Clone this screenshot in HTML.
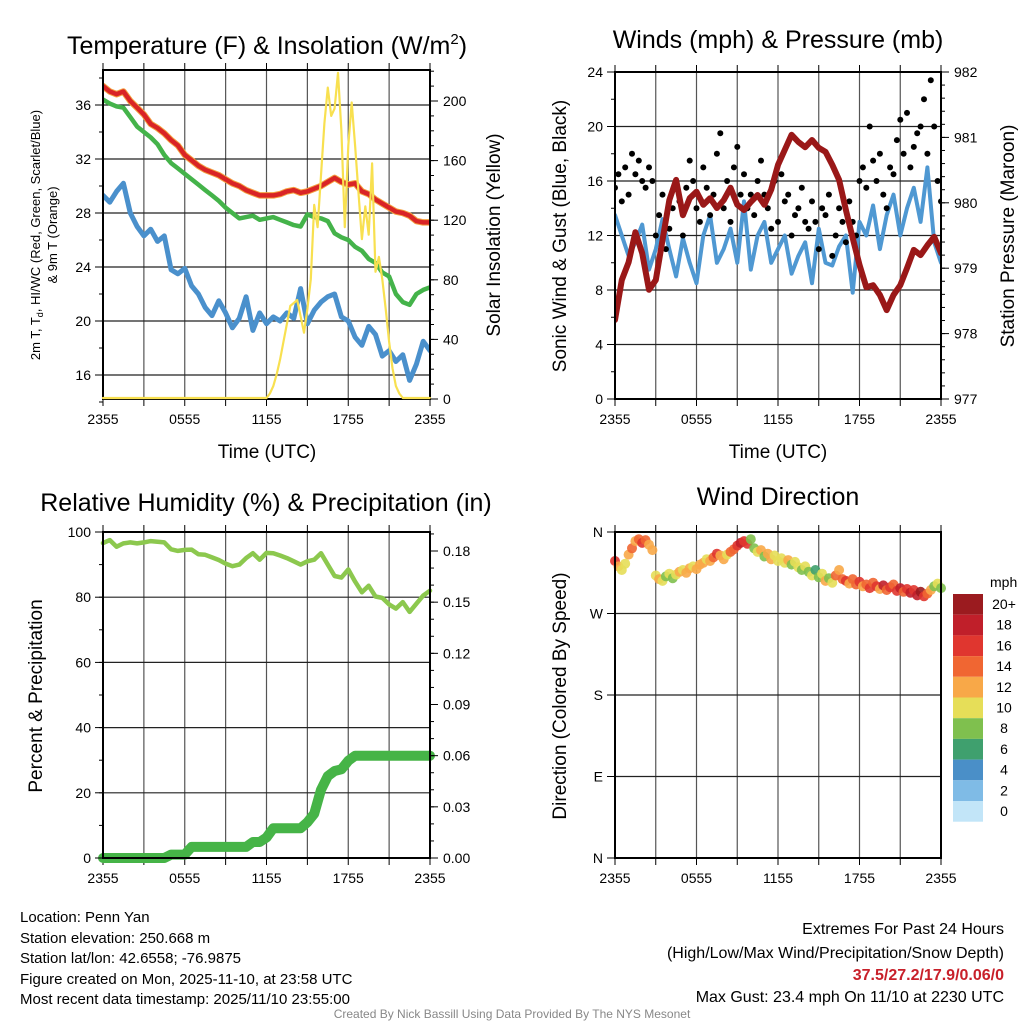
<!DOCTYPE html>
<html><head><meta charset="utf-8"><style>
html,body{margin:0;padding:0;background:#fff;}
svg{display:block;font-family:"Liberation Sans",Arial,sans-serif;}
</style></head><body>
<svg id="fig" xmlns="http://www.w3.org/2000/svg" width="1024" height="1024" viewBox="0 0 1024 1024">
<rect width="1024" height="1024" fill="#fff"/>
<g id="p1"></g>
<g id="p2"></g>
<g id="p3"></g>
<g id="p4"></g>
<g font-size="25" text-anchor="middle" fill="#000">
<text x="267" y="54">Temperature (F) &amp; Insolation (W/m<tspan font-size="15" dy="-10">2</tspan><tspan dy="10">)</tspan></text>
<text x="778" y="48">Winds (mph) &amp; Pressure (mb)</text>
<text x="266" y="511">Relative Humidity (%) &amp; Precipitation (in)</text>
<text x="778" y="505">Wind Direction</text>
</g>
<g font-size="19" fill="#000" text-anchor="middle">
<text x="267" y="458">Time (UTC)</text>
<text x="778" y="458">Time (UTC)</text>
<text transform="translate(500,235) rotate(-90)">Solar Insolation (Yellow)</text>
<text transform="translate(566,236) rotate(-90)">Sonic Wind &amp; Gust (Blue, Black)</text>
<text transform="translate(1014,236) rotate(-90)">Station Pressure (Maroon)</text>
<text transform="translate(42,696) rotate(-90)">Percent &amp; Precipitation</text>
<text transform="translate(566,696) rotate(-90)">Direction (Colored By Speed)</text>
<text transform="translate(40,235) rotate(-90)" font-size="13">2m T, T<tspan font-size="9" dy="3">d</tspan><tspan dy="-3">, HI/WC (Red, Green, Scarlet/Blue)</tspan></text>
<text transform="translate(57,235) rotate(-90)" font-size="13">&amp; 9m T (Orange)</text>
</g>
<g font-size="15" fill="#000">
<text x="20" y="922">Location: Penn Yan</text>
<text x="20" y="943">Station elevation: 250.668 m</text>
<text x="20" y="963">Station lat/lon: 42.6558; -76.9875</text>
<text x="20" y="984">Figure created on Mon, 2025-11-10, at 23:58 UTC</text>
<text x="20" y="1004">Most recent data timestamp: 2025/11/10 23:55:00</text>
</g>
<g font-size="16" fill="#000" text-anchor="end">
<text x="1004" y="934">Extremes For Past 24 Hours</text>
<text x="1004" y="958">(High/Low/Max Wind/Precipitation/Snow Depth)</text>
<text x="1004" y="980" fill="#c8202a" font-weight="bold">37.5/27.2/17.9/0.06/0</text>
<text x="1004" y="1002">Max Gust: 23.4 mph On 11/10 at 2230 UTC</text>
</g>
<text x="512" y="1018" font-size="12" fill="#888" text-anchor="middle">Created By Nick Bassill Using Data Provided By The NYS Mesonet</text>
</svg>
<script>
const xTickLabels = ["2355","0555","1155","1755","2355"];
const tempT = [37.4,37.0,36.8,37.0,36.3,35.8,35.3,34.6,34.3,33.9,33.4,33.0,32.3,31.9,31.5,31.2,31.0,30.8,30.5,30.2,30.0,29.7,29.5,29.3,29.3,29.3,29.4,29.6,29.7,29.5,29.6,29.8,30.0,30.3,30.6,30.3,30.1,30.2,29.6,29.4,29.0,28.7,28.4,28.1,28.0,27.8,27.4,27.3,27.3];
const tempTd = [36.4,36.1,35.9,35.8,35.1,34.4,34.0,33.6,33.1,32.3,31.7,31.3,30.9,30.5,30.1,29.7,29.3,28.9,28.4,28.0,27.6,27.7,27.8,27.5,27.6,27.7,27.5,27.3,27.1,27.0,27.9,27.7,27.6,27.4,26.5,26.2,26.0,25.5,25.2,24.6,24.3,23.6,23.3,22.0,21.4,21.2,22.0,22.3,22.5];
const tempWC = [29.3,28.8,29.6,30.2,28.0,27.0,26.3,26.8,25.9,26.3,23.8,23.5,23.9,22.6,22.0,21.0,20.4,21.5,20.6,19.5,20.2,21.8,19.3,20.6,19.8,20.3,20.0,20.6,20.2,22.4,19.8,20.8,21.4,21.8,22.0,20.3,20.0,18.8,18.2,19.6,19.0,17.4,17.8,17.0,17.5,15.6,16.8,18.5,17.8];
const tempLeftTicks = [16,20,24,28,32,36];
const solarTicks = [0,40,80,120,160,200];
const solar = [0,0,0,0,0,0,0,0,0,0,0,0,0,0,0,0,0,0,0,0,0,0,0,0,0,0,0,0,0,0,0,0,0,0,0,0,0,0,0,0,0,0,0,0,0,0,0,0,0,3,8,16,26,38,50,62,64,66,55,44,60,80,130,115,150,185,209,190,195,219,180,115,170,199,170,138,107,129,110,158,85,95,80,60,38,20,8,3,0,0,0,0,0,0,0,0,0];
const windSpeed = [13.5,12,10.5,11.5,12.8,9.5,11,13.2,11,9,11.8,10,8.5,12,13.5,10,11,12.5,10,14.5,9.5,12,13,10,11,12,9.2,10.5,11.5,8.5,12.5,10,9.8,11.2,12,7.8,13,12,14.2,11,13.5,15,12,14,15.5,13,17,11.5,10];
const windGust = [15.5,16.5,14.5,17,15,18,16.5,17.5,16,15.5,17,16,12,13.5,15,11,12.5,14,16,14.5,12,15.5,17.5,16,14,13,17,15.5,13.5,15,18,19.5,14,16,13,17,18.5,15,16.5,14,15,13.5,16,17.5,15,14,12.5,16,13,16.5,14.5,15,12,13.5,14,15.5,13,12.5,14.5,13,11,14,13.5,15,10.5,12,14,13,11.5,14.5,13,12,16,17,15.5,20,17.5,16,18,15,14,17,16.5,19,20.5,18,21,17,18.5,19.5,20,22,18,23.4,20,16,14.5];
const pressure = [978.21,978.82,979.09,979.55,979.23,978.67,978.82,979.43,980.04,980.35,979.81,980.07,980.17,979.97,980.07,979.92,980.04,980.23,979.97,979.89,980.01,980.12,979.97,980.20,980.58,980.81,981.04,980.93,980.85,980.96,980.84,980.78,980.58,980.35,979.89,979.46,979.05,978.71,978.74,978.59,978.36,978.59,978.74,979.00,979.28,979.20,979.35,979.48,979.23];
const windTicks = [0,4,8,12,16,20,24];
const pressTicks = [977,978,979,980,981,982];
const rh = [96.6,97.5,95.5,96.5,96.8,96.5,96.8,97.2,97.0,96.8,94.7,94.2,94.5,94.6,93.2,93.0,92.2,91.4,90.3,89.5,90.0,92.0,93.5,91.5,93.6,93.5,92.8,92.0,91.0,90.0,91.0,91.5,93.5,90.0,86.5,86.0,88.5,84.8,81.5,83.5,80.2,79.8,77.8,76.5,78.5,75.5,78.0,80.5,82.0];
const precip = [0,0,0,0,0,0,0,0,0,0,0.002,0.002,0.002,0.0065,0.0065,0.0065,0.0065,0.0065,0.0065,0.0065,0.0065,0.0065,0.0094,0.0094,0.012,0.0175,0.0175,0.0175,0.0175,0.0175,0.021,0.026,0.04,0.048,0.051,0.052,0.057,0.06,0.06,0.06,0.06,0.06,0.06,0.06,0.06,0.06,0.06,0.06,0.06];
const rhTicks = [0,20,40,60,80,100];
const precipTicks = ["0.00","0.03","0.06","0.09","0.12","0.15","0.18"];
const windDir = [328,322,318,325,335,342,350,352,348,351,346,340,312,308,306,311,314,309,313,316,318,315,320,322,319,324,326,330,328,332,336,334,330,335,338,341,345,348,350,347,352,342,338,340,333,336,330,334,328,331,326,329,324,327,321,318,322,316,312,318,310,314,306,309,304,312,318,308,306,303,308,302,305,300,302,298,304,300,297,301,296,299,302,295,298,294,297,293,296,290,294,289,292,296,300,303,298];
const dirSpeed = [16,12,11,10,12,14,13,15,16,14,12,13,11,12,10,9,11,8,10,12,11,13,12,11,12,13,12,11,13,14,16,12,13,11,14,15,17,18,16,17,8,9,10,12,8,13,12,11,10,11,10,12,9,10,11,8,10,9,11,7,8,10,12,9,11,14,13,15,16,12,14,15,17,13,15,16,14,17,13,18,15,16,14,17,18,15,17,19,16,18,20,17,14,12,8,10,9];
const dirTicks = [0,90,180,270,360];
const dirLabels = ["N","E","S","W","N"];
const cbLabels = ["20+","18","16","14","12","10","8","6","4","2","0"];
const cbColors = ["#9b1b1f","#c01f2a","#e0362f","#f06632","#f8a848","#e6de58","#7fc04e","#3fa06e","#4a8fc8","#7fbbe6","#c2e5f8"];

const NS="http://www.w3.org/2000/svg";
function mk(parent,tag,attrs){const e=document.createElementNS(NS,tag);for(const k in attrs)e.setAttribute(k,attrs[k]);parent.appendChild(e);return e;}
function lin(d0,d1,r0,r1){return v=>r0+(v-d0)*(r1-r0)/(d1-d0);}
const X0=103,X1=430,X20=615,X21=941;
function frame(g,x0,x1,y0,y1,hgrid,ysc){
  for(let i=1;i<8;i++){const x=x0+(x1-x0)*i/8;const l=mk(g,'line',{x1:x,x2:x,y1:y0,y2:y1,stroke:'#555','stroke-width':1.2});
    
    }
  hgrid.forEach(v=>{const y=ysc(v);const l=mk(g,'line',{x1:x0,x2:x1,y1:y,y2:y,stroke:'#222','stroke-width':1.2});
    
    });
  for(let i=0;i<=8;i++){const x=x0+(x1-x0)*i/8;mk(g,'line',{x1:x,x2:x,y1:y0-7,y2:y0,stroke:'#000','stroke-width':1});mk(g,'line',{x1:x,x2:x,y1:y1,y2:y1+7,stroke:'#000','stroke-width':1});}
  xTickLabels.forEach((t,i)=>{const x=x0+(x1-x0)*i/4;const tx=mk(g,'text',{x:x,y:y1+25,'font-size':14,'text-anchor':'middle'});tx.textContent=t;
    
    });
}
function border(g,x0,x1,y0,y1){const r=mk(g,'rect',{x:x0,y:y0,width:x1-x0,height:y1-y0,fill:'none',stroke:'#000','stroke-width':2});
  
  }
function leftTicks(g,x0,ticks,ysc,labels,minorStep,lo,hi){
  ticks.forEach((v,i)=>{const y=ysc(v);mk(g,'line',{x1:x0-8,x2:x0,y1:y,y2:y,stroke:'#000'});const t=mk(g,'text',{x:x0-12,y:y+5,'font-size':14,'text-anchor':'end'});t.textContent=labels?labels[i]:v;
    
    });
  if(minorStep)for(let v=lo;v<=hi+1e-9;v+=minorStep){const y=ysc(v);mk(g,'line',{x1:x0-4,x2:x0,y1:y,y2:y,stroke:'#000'});}
}
function rightTicks(g,x1,ticks,ysc,labels,minorStep,lo,hi){
  ticks.forEach((v,i)=>{const y=ysc(v);mk(g,'line',{x1:x1,x2:x1+8,y1:y,y2:y,stroke:'#000'});const t=mk(g,'text',{x:x1+13,y:y+5,'font-size':14,'text-anchor':'start'});t.textContent=labels?labels[i]:v;
    
    });
  if(minorStep)for(let v=lo;v<=hi+1e-9;v+=minorStep){const y=ysc(v);mk(g,'line',{x1:x1,x2:x1+4,y1:y,y2:y,stroke:'#000'});}
}
function path(g,vals,xs,ys,color,w,name){
  const d=vals.map((v,i)=>(i?'L':'M')+xs(i).toFixed(1)+','+ys(v).toFixed(1)).join('');
  const p=mk(g,'path',{d:d,fill:'none',stroke:color,'stroke-width':w,'stroke-linejoin':'round','stroke-linecap':'round'});
  
  
  return p;
}
// Panel 1
(function(){
  const g=document.getElementById('p1');const y0=70,y1=399;
  const ys=lin(16,36,375,105), ysR=lin(0,200,398,101);
  const clip=mk(g,'clipPath',{id:'c1'});mk(clip,'rect',{x:X0,y:y0,width:X1-X0,height:y1-y0});
  frame(g,X0,X1,y0,y1,tempLeftTicks,ys);
  const d=mk(g,'g',{'clip-path':'url(#c1)'});
  const xs=lin(0,tempT.length-1,X0,X1), xs2=lin(0,solar.length-1,X0,X1);
  path(d,tempT,xs,ys,'#f4a040',6.5,'9m-temperature-line');
  path(d,tempT,xs,ys,'#d92426',4.5,'temperature-line');
  path(d,tempTd,xs,ys,'#44b34a',4.5,'dewpoint-line');
  path(d,tempWC,xs,ys,'#4a90cc',5,'wind-chill-line');
  border(g,X0,X1,y0,y1);
  path(g,solar,xs2,ysR,'#f8e050',2.2,'solar-insolation-line');
  leftTicks(g,X0,tempLeftTicks,ys,null,2,14,38);
  rightTicks(g,X1,solarTicks,lin(0,200,399,101),null,10,0,220);
})();
// Panel 2
(function(){
  const g=document.getElementById('p2');const y0=72,y1=399;
  const ys=lin(0,24,399,72), ysR=lin(977,982,399,72);
  const clip=mk(g,'clipPath',{id:'c2'});mk(clip,'rect',{x:X20,y:y0,width:X21-X20,height:y1-y0});
  frame(g,X20,X21,y0,y1,[4,8,12,16,20],ys);
  const d=mk(g,'g',{'clip-path':'url(#c2)'});
  const xs=lin(0,windSpeed.length-1,X20,X21), xg=lin(0,windGust.length-1,X20,X21), xp=lin(0,pressure.length-1,X20,X21);
  path(d,windSpeed,xs,ys,'#4f98d2',4,'sonic-wind-line');
  windGust.forEach((v,i)=>{const c=mk(d,'circle',{cx:xg(i).toFixed(1),cy:ys(v).toFixed(1),r:3,fill:'#000'});
    
    });
  path(d,pressure,xp,ysR,'#9a1818',6,'pressure-line');
  border(g,X20,X21,y0,y1);
  leftTicks(g,X20,windTicks,ys,null,2,0,24);
  rightTicks(g,X21,pressTicks,ysR,null,0.2,977,982);
})();
// Panel 3
(function(){
  const g=document.getElementById('p3');const y0=532,y1=858;
  const ys=lin(0,100,858,532), ysR=lin(0,0.18,858,551);
  const clip=mk(g,'clipPath',{id:'c3'});mk(clip,'rect',{x:X0-8,y:y0,width:X1-X0+16,height:y1-y0+8});
  frame(g,X0,X1,y0,y1,[20,40,60,80],ys);
  const d=mk(g,'g',{'clip-path':'url(#c3)'});
  const xs=lin(0,rh.length-1,X0,X1), xp=lin(0,precip.length-1,X0,X1);
  path(d,rh,xs,ys,'#8cc84e',4.5,'relative-humidity-line');
  path(d,precip,xp,ysR,'#46b447',10,'precipitation-line');
  border(g,X0,X1,y0,y1);
  leftTicks(g,X0,rhTicks,ys,null,10,0,100);
  rightTicks(g,X1,precipTicks.map(Number),ysR,precipTicks,0.01,0,0.19);
})();
// Panel 4
(function(){
  const g=document.getElementById('p4');const y0=532,y1=858;
  const ys=lin(0,360,858,532);
  frame(g,X20,X21,y0,y1,[90,180,270],ys);
  const xs=lin(0,windDir.length-1,X20,X21);
  windDir.forEach((v,i)=>{const bin=Math.max(0,Math.min(10,Math.floor(dirSpeed[i]/2)));
    const c=mk(g,'circle',{cx:xs(i).toFixed(1),cy:ys(v).toFixed(1),r:5,fill:cbColors[10-bin],'fill-opacity':0.9});
    
    });
  border(g,X20,X21,y0,y1);
  leftTicks(g,X20,dirTicks,ys,dirLabels,null);
  const cb=mk(g,'g',{});
  
  
  const t=mk(cb,'text',{x:990,y:587,'font-size':14});t.textContent='mph';
  cbColors.forEach((c,i)=>{const r=mk(cb,'rect',{x:953,y:594+i*20.7,width:30,height:20.7,fill:c});
    
    
    const l=mk(cb,'text',{x:1004,y:594+i*20.7+15,'font-size':14,'text-anchor':'middle'});l.textContent=cbLabels[i];
    
    });
})();
</script>
</body></html>
